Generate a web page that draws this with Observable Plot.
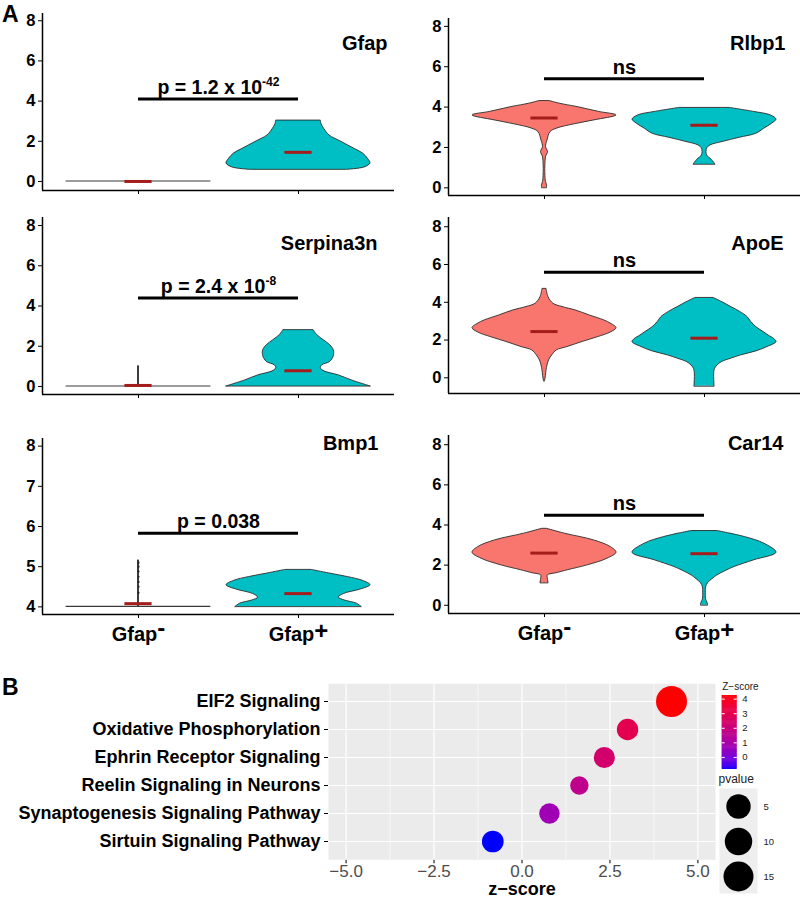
<!DOCTYPE html>
<html><head><meta charset="utf-8">
<script src="https://cdn.jsdelivr.net/npm/d3@7"></script>
<script src="https://cdn.jsdelivr.net/npm/@observablehq/plot@0.6"></script>
<style>
body{margin:0;background:#fff;}
#root{position:relative;width:800px;height:898px;overflow:hidden;font-family:"Liberation Sans",Arial,Helvetica,sans-serif;}
#root svg{overflow:visible;}
#pb g[aria-label^="x-axis"] text{font-weight:normal !important;fill:#4D4D4D !important;font-size:17px !important;}
#pb g[aria-label^="y-axis"] text{font-weight:bold !important;fill:#000 !important;font-size:18px !important;}
#cl g[aria-label^="y-axis"] text{font-size:9.5px !important;fill:#222 !important;font-weight:normal !important;}
</style></head><body><div id="root"></div>
<script>
// ---------------- DATA ----------------
const groups = ["Gfap-", "Gfap+"];
const genes = ["Gfap", "Serpina3n", "Bmp1", "Rlbp1", "ApoE", "Car14"];
const pLabels = ["p = 1.2 x 10^-42", "p = 2.4 x 10^-8", "p = 0.038", "ns", "ns", "ns"];
const barLevels = [4.1, 4.4, 5.83, 5.41, 5.59, 4.48];
const medianNeg = [0, 0.05, 4.08, 3.46, 2.45, 2.6];
const medianPos = [1.45, 0.78, 4.33, 3.1, 2.1, 2.57];
const yTicksMain = [0, 2, 4, 6, 8];
const yTicksBmp1 = [4, 5, 6, 7, 8];

// violin outlines: [expression, relative density width (1 = widest)]
const gfapNeg = [[0, 1], [0, 0]];
const gfapPos = [[0.58, .67], [0.7, .92], [0.9, 1], [1.1, .97], [1.38, .9], [1.6, .79], [1.79, .69], [2.0, .58], [2.29, .43], [2.6, .36], [2.85, .32], [3.03, .31]];
const serpinaNeg = [[0, 1], [0, .006], [1.0, .006]];
const serpinaPos = [[0, 1], [0.3, .74], [0.55, .56], [0.75, .36], [0.9, .31], [1.05, .33], [1.22, .44], [1.5, .49], [1.8, .49], [2.05, .44], [2.3, .35], [2.55, .26], [2.8, .21]];
const bmp1Neg = [[4, 1], [4, .006], [5.15, .006]];
const bmp1Pos = [[4.0, .875], [4.08, .81], [4.16, .64], [4.23, .56], [4.32, .63], [4.43, .86], [4.54, 1], [4.65, .89], [4.74, .69], [4.83, .43], [4.92, .18]];
const bmp1NegPoints = [4.35, 4.5, 4.62, 4.75, 4.88, 5.0, 5.1];
const rlbp1Neg = [[0, .035], [0.12, .035], [0.36, .017], [1.52, .021], [1.77, .049], [2.02, .021], [2.35, .042], [2.76, .083], [2.93, .17], [3.15, .42], [3.34, .69], [3.59, 1], [3.76, .76], [4.0, .46], [4.17, .21], [4.3, .07]];
const rlbp1Pos = [[1.16, .15], [1.39, .1], [1.61, .035], [1.94, .035], [2.1, .083], [2.27, .25], [2.48, .49], [2.68, .72], [2.93, .83], [3.18, .94], [3.38, 1], [3.59, .92], [3.76, .69], [3.96, .35]];
const apoeNeg = [[-0.18, .007], [0.1, .02], [0.4, .028], [0.92, .063], [1.2, .11], [1.45, .17], [1.63, .32], [1.9, .53], [2.15, .74], [2.4, .92], [2.63, 1], [2.85, .93], [3.04, .83], [3.3, .63], [3.56, .44], [3.75, .25], [3.92, .125], [4.27, .056], [4.71, .028]];
const apoePos = [[-0.45, .14], [0.4, .14], [0.65, .18], [0.83, .24], [1.0, .36], [1.19, .51], [1.4, .72], [1.63, .875], [1.89, 1], [2.05, .97], [2.24, .89], [2.45, .81], [2.68, .72], [2.95, .65], [3.21, .6], [3.5, .49], [3.74, .375], [4.0, .25], [4.23, .125]];
const car14Neg = [[1.11, .056], [1.33, .046], [1.49, .046], [1.6, .17], [1.75, .33], [1.99, .6], [2.32, .875], [2.62, 1], [2.9, .92], [3.23, .69], [3.57, .28], [3.81, .035]];
const car14Pos = [[0, .049], [0.12, .042], [0.3, .021], [0.6, .018], [0.9, .022], [1.1, .049], [1.3, .11], [1.49, .18], [1.7, .29], [1.91, .42], [2.24, .69], [2.62, 1], [3.07, .83], [3.4, .56], [3.7, .18]];
const violins = [[gfapNeg, gfapPos], [serpinaNeg, serpinaPos], [bmp1Neg, bmp1Pos], [rlbp1Neg, rlbp1Pos], [apoeNeg, apoePos], [car14Neg, car14Pos]];

// panel B
const pathways = ["EIF2 Signaling", "Oxidative Phosphorylation", "Ephrin Receptor Signaling", "Reelin Signaling in Neurons", "Synaptogenesis Signaling Pathway", "Sirtuin Signaling Pathway"];
const zScores = [4.25, 3.0, 2.34, 1.63, 0.78, -0.83];
const pValues = [17, 4.45, 4.4, 3.9, 4.27, 4.5];
const zTicks = [-5, -2.5, 0, 2.5, 5];
const zMinor = [-3.75, -1.25, 1.25, 3.75];
const colorTicks = [0, 1, 2, 3, 4];
const pLegend = [5, 10, 15];

// ---------------- LAYOUT ----------------
const FONT = '"Liberation Sans", Arial, Helvetica, sans-serif';
const fills = ["#F8766D", "#00BFC4"];
const HALF = 0.45;
const xs = [1, 2];
const cols = [{left: 0, mL: 42, mR: 6}, {left: 400, mL: 48, mR: 0}];
const frames = [
  {col: 0, top: 13, bottom: 190, ymin: -0.45, ymax: 8.36, dx: -7, dy: 30, ticks: yTicksMain},
  {col: 0, top: 217, bottom: 394, ymin: -0.4, ymax: 8.4, dx: -17, dy: 26, ticks: yTicksMain},
  {col: 0, top: 438, bottom: 614, ymin: 3.81, ymax: 8.19, dx: -16, dy: 5, ticks: yTicksBmp1, last: true},
  {col: 1, top: 18, bottom: 195, ymin: -0.38, ymax: 8.39, dx: -15, dy: 25, ticks: yTicksMain},
  {col: 1, top: 217, bottom: 393, ymin: -0.83, ymax: 8.49, dx: -17, dy: 26, ticks: yTicksMain},
  {col: 1, top: 435, bottom: 613, ymin: -0.41, ymax: 8.46, dx: -17, dy: 8, ticks: yTicksMain, last: true}
];

const root = document.getElementById("root");
function place(node, left, top, id) {
  const div = document.createElement("div");
  div.style.position = "absolute";
  div.style.left = left + "px";
  div.style.top = top + "px";
  if (id) div.id = id;
  div.appendChild(node);
  root.appendChild(div);
  return div;
}

frames.forEach((f, i) => {
  const c = cols[f.col];
  const mT = 12, mB = f.last ? 45 : 10;
  const marks = [];
  violins[i].forEach((pts, g) => {
    const flat = pts.some((q, k) => k > 0 && q[0] === pts[k - 1][0]);
    marks.push(Plot.areaX(pts, {
      y: d => d[0],
      x1: d => xs[g] - d[1] * HALF,
      x2: d => xs[g] + d[1] * HALF,
      fill: flat ? "none" : fills[g],
      stroke: flat ? "#3a3a3a" : "#2b2b2b",
      strokeWidth: flat ? 1.1 : 0.9,
      curve: flat ? "linear" : "catmull-rom"
    }));
  });
  if (i === 2) marks.push(Plot.dot(bmp1NegPoints, {x: () => xs[0], y: d => d, r: 1.1, fill: "#222", stroke: "none"}));
  marks.push(Plot.ruleY([0, 1], {
    y: g => (g === 0 ? medianNeg : medianPos)[i],
    x1: g => xs[g] - 0.085, x2: g => xs[g] + 0.085,
    stroke: "#A51C1C", strokeWidth: 3
  }));
  marks.push(Plot.ruleY([barLevels[i]], {x1: () => xs[0], x2: () => xs[1], stroke: "black", strokeWidth: 3}));
  marks.push(Plot.text([pLabels[i]], {x: () => (xs[0] + xs[1]) / 2, y: () => barLevels[i], text: d => d,
    lineAnchor: "bottom", dy: -5, fontSize: pLabels[i] === "ns" ? 20 : 19.5, fontWeight: "bold", fill: "black"}));
  marks.push(Plot.text([genes[i]], {frameAnchor: "top-right", textAnchor: "end", lineAnchor: "middle", dx: f.dx, dy: f.dy,
    fontSize: 20, fontWeight: "bold", fill: "black"}));
  marks.push(Plot.ruleX([0.4], {stroke: "black", strokeWidth: 1.5}));
  marks.push(Plot.ruleY([f.ymin], {stroke: "black", strokeWidth: 1.5}));
  // y tick labels
  marks.push(Plot.text(f.ticks, {y: d => d, text: d => String(d), frameAnchor: "left", textAnchor: "end", lineAnchor: "middle",
    dx: -7, fontSize: 16.5, fontWeight: "bold", fill: "black"}));
  if (f.last) marks.push(Plot.text(groups, {x: (d, k) => xs[k], text: d => d, frameAnchor: "bottom", lineAnchor: "middle", dy: 20,
    fontSize: 20, fontWeight: "bold", fill: "black"}));
  const plot = Plot.plot({
    width: 400, height: (f.bottom - f.top) + mT + mB,
    marginLeft: c.mL, marginRight: c.mR, marginTop: mT, marginBottom: mB,
    style: {fontFamily: FONT, fontSize: "16px", fontWeight: "bold", color: "black", background: "transparent", overflow: "visible"},
    x: {domain: [0.4, 2.6], ticks: xs, tickFormat: () => "", tickSize: 4, label: null},
    y: {domain: [f.ymin, f.ymax], ticks: f.ticks, tickSize: 4, tickPadding: 3, label: null, tickFormat: () => ""},
    marks
  });
  place(plot, c.left, f.top - mT);
});

// ---------------- PANEL B ----------------
const table = pathways.map((name, k) => ({name, z: zScores[k], p: pValues[k]}));
const colorOpts = {type: "linear", domain: d3.extent(zScores), range: ["blue", "red"], interpolate: "lab"};
const rOpts = {type: "linear", domain: [3.9, 5, 10, 15, 17], range: [9.2, 12.2, 13.7, 15, 15.5]};

const pb = Plot.plot({
  width: 720, height: 230,
  marginLeft: 328, marginRight: 5, marginTop: 15.3, marginBottom: 38.7,
  style: {fontFamily: FONT, fontSize: "17px", color: "black", background: "transparent", overflow: "visible"},
  x: {domain: [-5.5, 5.5], ticks: zTicks, tickFormat: d3.format(".1f"), tickSize: 4, tickPadding: 1, label: null},
  y: {type: "point", domain: pathways, padding: 0.6, tickSize: 4, tickPadding: 4, label: null},
  color: colorOpts,
  r: rOpts,
  marks: [
    Plot.frame({fill: "#EBEBEB", stroke: "none"}),
    Plot.ruleX(zMinor, {stroke: "white", strokeWidth: 0.6}),
    Plot.ruleX(zTicks, {stroke: "white", strokeWidth: 1.2}),
    Plot.ruleY(pathways, {stroke: "white", strokeWidth: 1.2}),
    Plot.dot(table, {x: "z", y: "name", r: "p", fill: "z", stroke: "none"}),
    Plot.text(["z\u2212score"], {frameAnchor: "bottom", lineAnchor: "middle", dy: 29.5, fontSize: 18, fontWeight: "bold", fill: "black"})
  ]
});
place(pb, 0, 668, "pb");

// color legend
const zd = colorOpts.domain;
const nSteps = 80;
const steps = d3.range(nSteps).map(k => zd[0] + (zd[1] - zd[0]) * k / nSteps);
const dz = (zd[1] - zd[0]) / nSteps;
const cl = Plot.plot({
  width: 70, height: 98, marginLeft: 9.7, marginRight: 45.3, marginTop: 19, marginBottom: 5,
  style: {fontFamily: FONT, fontSize: "9.5px", color: "#222", background: "transparent", overflow: "visible"},
  x: {domain: [0, 1], axis: null},
  y: {domain: zd, axis: "right", ticks: colorTicks, tickSize: 0, tickPadding: 5, label: null, tickFormat: d3.format("d")},
  color: colorOpts,
  marks: [
    Plot.rect(steps, {x1: () => 0, x2: () => 1, y1: d => d, y2: d => Math.min(d + dz * 1.6, zd[1]), fill: d => d + dz / 2, stroke: "none"}),
    Plot.ruleY(colorTicks, {x1: () => 0, x2: () => 0.2, stroke: "white", strokeWidth: 1}),
    Plot.ruleY(colorTicks, {x1: () => 0.8, x2: () => 1, stroke: "white", strokeWidth: 1}),
    Plot.text(["Z\u2212score"], {frameAnchor: "top-left", textAnchor: "start", lineAnchor: "middle", dy: -9, dx: 0, fontSize: 10, fill: "#222"})
  ]
});
place(cl, 712, 676, "cl");

// size legend
const sl = Plot.plot({
  width: 90, height: 130, marginLeft: 9, marginRight: 43, marginTop: 22, marginBottom: 3,
  style: {fontFamily: FONT, fontSize: "10px", color: "#222", background: "transparent", overflow: "visible"},
  x: {axis: null},
  y: {type: "point", domain: pLegend, padding: 0.47, axis: null},
  r: rOpts,
  marks: [
    Plot.frame({fill: "#EEEEEE", stroke: "none"}),
    Plot.dot(pLegend, {y: d => d, r: d => d, fill: "black", stroke: "none"}),
    Plot.text(pLegend, {y: d => d, text: d => String(d), frameAnchor: "right", lineAnchor: "middle", dx: 6, textAnchor: "start", fontSize: 9.5, fill: "#222"}),
    Plot.text(["pvalue"], {frameAnchor: "top-left", textAnchor: "start", lineAnchor: "middle", dy: -9, dx: -1, fontSize: 12, fill: "#222"})
  ]
});
place(sl, 710, 766);

// panel letters
const ns = "http://www.w3.org/2000/svg";
const over = document.createElementNS(ns, "svg");
over.setAttribute("width", 800); over.setAttribute("height", 898);
over.style.position = "absolute"; over.style.left = "0"; over.style.top = "0"; over.style.pointerEvents = "none";
[["A", 2, 22], ["B", 2, 695]].forEach(([t, x, y]) => {
  const el = document.createElementNS(ns, "text");
  el.setAttribute("x", x); el.setAttribute("y", y);
  el.setAttribute("font-family", FONT); el.setAttribute("font-size", "23"); el.setAttribute("font-weight", "bold");
  el.textContent = t; over.appendChild(el);
});
root.appendChild(over);

// rich text: superscripts and raised +/- signs
root.querySelectorAll("text").forEach(el => {
  const s = el.textContent;
  if (el.children.length) return;
  if (s.includes("^")) {
    const [base, sup] = s.split("^");
    el.textContent = "";
    const t1 = document.createElementNS(ns, "tspan"); t1.textContent = base;
    const t2 = document.createElementNS(ns, "tspan"); t2.textContent = sup;
    t2.setAttribute("font-size", "0.62em"); t2.setAttribute("dy", "-0.7em");
    el.appendChild(t1); el.appendChild(t2);
  } else if (s === "Gfap-" || s === "Gfap+") {
    el.textContent = "";
    const t1 = document.createElementNS(ns, "tspan"); t1.textContent = "Gfap";
    const t2 = document.createElementNS(ns, "tspan"); t2.textContent = s.slice(4);
    t2.setAttribute("font-size", "1.2em");
    t2.setAttribute("dy", s.endsWith("-") ? "-0.22em" : "-0.08em");
    el.appendChild(t1); el.appendChild(t2);
  }
});
</script></body></html>
